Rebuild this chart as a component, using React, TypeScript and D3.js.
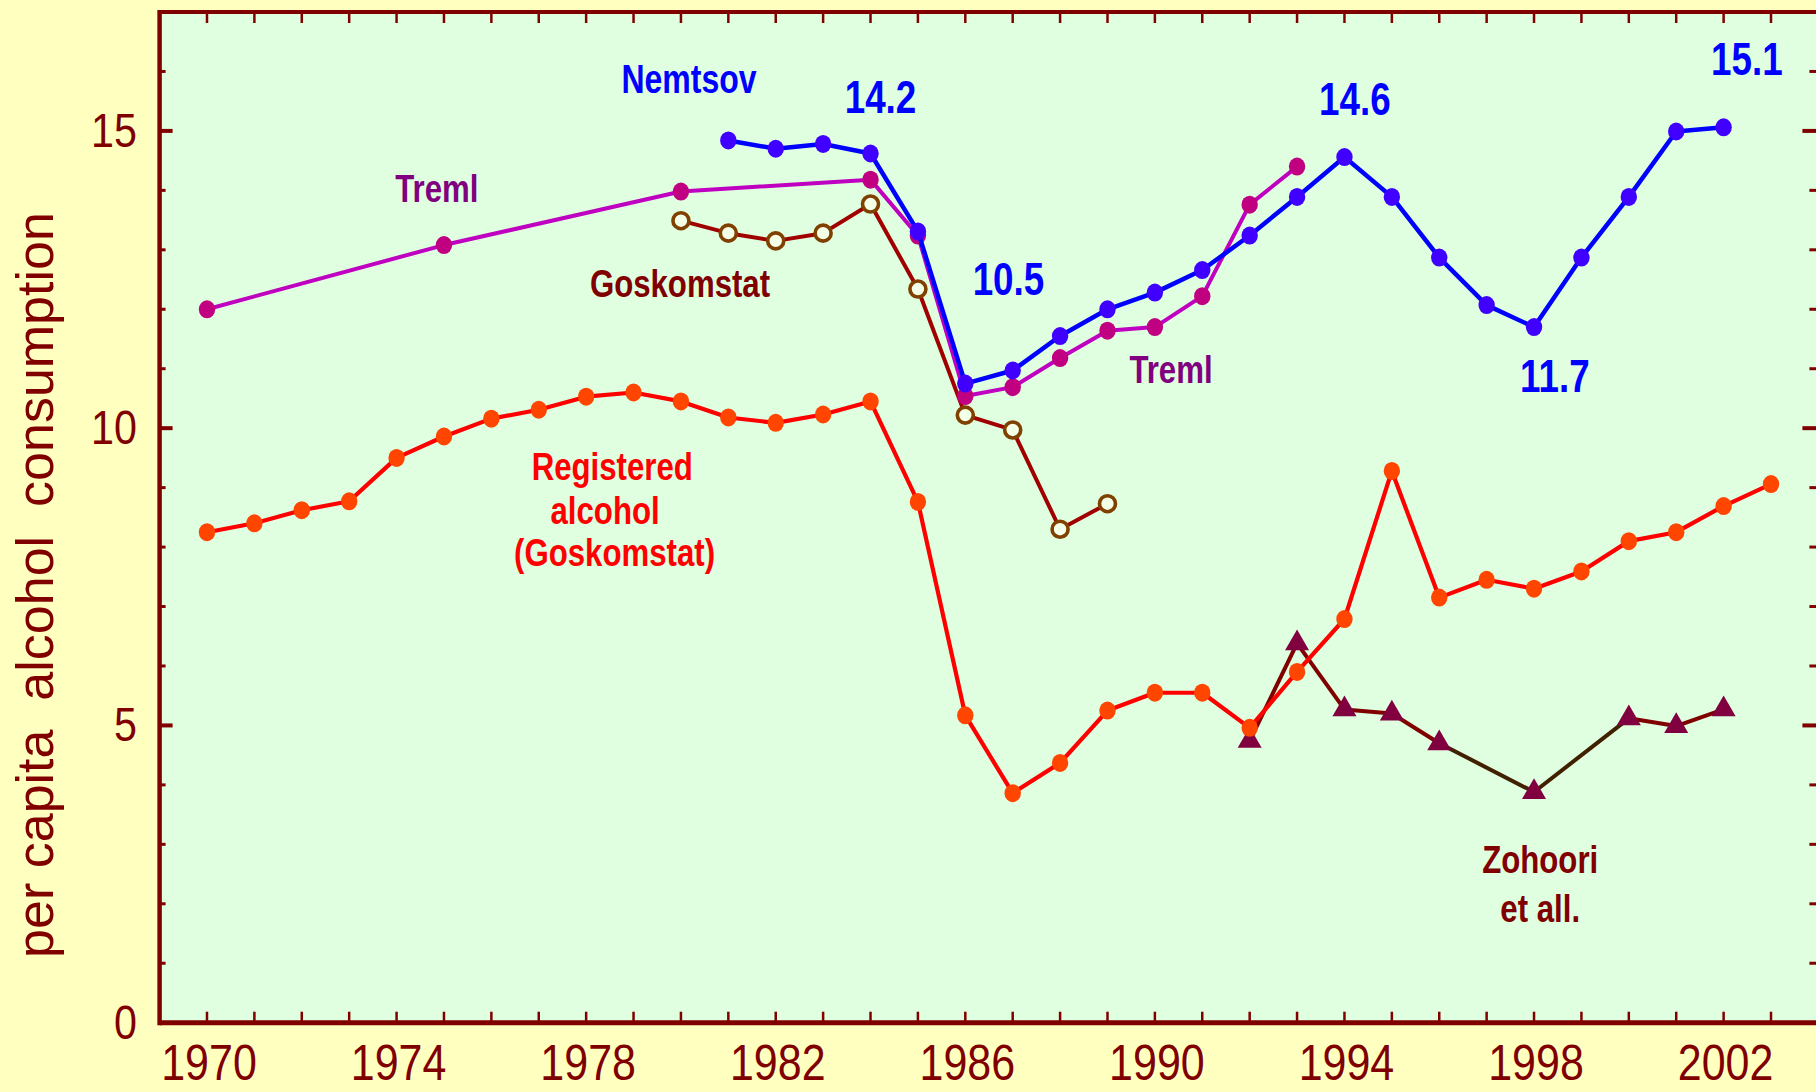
import React from 'react';
import * as d3 from 'd3';

// --- data ---
const registeredYears = [1970, 1971, 1972, 1973, 1974, 1975, 1976, 1977, 1978, 1979, 1980, 1981, 1982, 1983, 1984, 1985, 1986, 1987, 1988, 1989, 1990, 1991, 1992, 1993, 1994, 1995, 1996, 1997, 1998, 1999, 2000, 2001, 2002, 2003];
const registeredValues = [8.25, 8.4, 8.62, 8.77, 9.5, 9.86, 10.16, 10.31, 10.53, 10.6, 10.45, 10.18, 10.09, 10.23, 10.45, 8.76, 5.17, 3.86, 4.37, 5.25, 5.55, 5.55, 4.96, 5.9, 6.79, 9.28, 7.15, 7.45, 7.3, 7.59, 8.1, 8.25, 8.69, 9.06];

const nemtsovYears = [1981, 1982, 1983, 1984, 1985, 1986, 1987, 1988, 1989, 1990, 1991, 1992, 1993, 1994, 1995, 1996, 1997, 1998, 1999, 2000, 2001, 2002];
const nemtsovValues = [14.84, 14.7, 14.78, 14.62, 13.31, 10.75, 10.97, 11.55, 12.0, 12.28, 12.66, 13.24, 13.89, 14.56, 13.89, 12.87, 12.07, 11.7, 12.87, 13.89, 14.99, 15.06];

const tremlYears = [1970, 1975, 1980, 1984, 1985, 1986, 1987, 1988, 1989, 1990, 1991, 1992, 1993];
const tremlValues = [12.0, 13.08, 13.98, 14.18, 13.24, 10.54, 10.69, 11.18, 11.64, 11.7, 12.22, 13.76, 14.4];

const goskomstatYears = [1980, 1981, 1982, 1983, 1984, 1985, 1986, 1987, 1988, 1989];
const goskomstatValues = [13.49, 13.28, 13.15, 13.28, 13.77, 12.34, 10.22, 9.97, 8.3, 8.73];

const zohooriYears = [1992, 1993, 1994, 1995, 1996, 1998, 2000, 2001, 2002];
const zohooriValues = [4.74, 6.38, 5.27, 5.2, 4.7, 3.88, 5.12, 4.99, 5.27];

const xTickLabels = [1970, 1974, 1978, 1982, 1986, 1990, 1994, 1998, 2002];
const yTickLabels = [0, 5, 10, 15];

// annotation texts, placed in data coordinates (year, value of baseline)
const notes = [
  { text: 'Nemtsov', year: 1980.17, value: 15.64, color: '#0000ff', size: 40 },
  { text: '14.2', year: 1984.21, value: 15.3, color: '#0000ff', size: 46 },
  { text: '10.5', year: 1986.91, value: 12.24, color: '#0000ff', size: 46 },
  { text: '14.6', year: 1994.22, value: 15.27, color: '#0000ff', size: 46 },
  { text: '15.1', year: 2002.49, value: 15.94, color: '#0000ff', size: 46 },
  { text: '11.7', year: 1998.44, value: 10.61, color: '#0000ff', size: 46 },
  { text: 'Treml', year: 1974.85, value: 13.8, color: '#800080', size: 39 },
  { text: 'Treml', year: 1990.34, value: 10.76, color: '#800080', size: 39 },
  { text: 'Goskomstat', year: 1979.98, value: 12.21, color: '#800000', size: 39 },
  { text: 'Registered', year: 1978.55, value: 9.13, color: '#ff0000', size: 39 },
  { text: 'alcohol', year: 1978.4, value: 8.39, color: '#ff0000', size: 39 },
  { text: '(Goskomstat)', year: 1978.6, value: 7.68, color: '#ff0000', size: 39 },
  { text: 'Zohoori', year: 1998.13, value: 2.52, color: '#800000', size: 39 },
  { text: 'et all.', year: 1998.13, value: 1.69, color: '#800000', size: 39 },
];

const W = 1816;
const H = 1092;
const AXIS = '#800000';
const SANS = "'Liberation Sans', Arial, sans-serif";

const zip = (xs: number[], ys: number[]) => xs.map((x, i) => ({ x, y: ys[i] }));

// condensed text: no narrow font installed, so squeeze Liberation Sans
function NText({ x, y, size, fill, anchor = 'middle', bold = false, sx = 0.8, children }: any) {
  return (
    <g transform={`translate(${x},${y}) scale(${sx},1)`}>
      <text x={0} y={0} fontSize={size} fill={fill} textAnchor={anchor} fontFamily={SANS} fontWeight={bold ? 'bold' : 'normal'}>
        {children}
      </text>
    </g>
  );
}

export default function App() {
  const x = d3.scaleLinear().domain([1969, 2004]).range([159.6, 1818.4]);
  const y = d3.scaleLinear().domain([0, 17]).range([1022.7, 12]);

  const line = d3.line<{ x: number; y: number }>().x(d => x(d.x)).y(d => y(d.y));

  const registered = zip(registeredYears, registeredValues);
  const nemtsov = zip(nemtsovYears, nemtsovValues);
  const treml = zip(tremlYears, tremlValues);
  const goskomstat = zip(goskomstatYears, goskomstatValues);
  const zohoori = zip(zohooriYears, zohooriValues);

  const triangle = d3.symbol().type(d3.symbolTriangle).size(250)();

  const [x0, x1] = x.range();
  const [yb, yt] = y.range();
  const yMinor = d3.range(1, 17);
  const xMinor = d3.range(1970, 2004);

  return (
    <svg width={W} height={H} style={{ position: 'absolute', left: 0, top: 0, display: 'block' }}>
      <rect x={0} y={0} width={W} height={H} fill="#ffffc0" />
      <rect x={x0} y={yt} width={x1 - x0} height={yb - yt} fill="#e0ffe0" />

      {/* ticks */}
      <g stroke={AXIS}>
        {yMinor.map(v => {
          const major = v % 5 === 0;
          const len = major ? 13 : 6;
          return (
            <g key={'yt' + v}>
              <line x1={x0} x2={x0 + len} y1={y(v)} y2={y(v)} strokeWidth={major ? 4 : 3} />
              <line x1={x1} x2={x1 - len - 3} y1={y(v)} y2={y(v)} strokeWidth={major ? 4 : 3} />
            </g>
          );
        })}
        {xMinor.map(v => (
          <g key={'xt' + v}>
            <line x1={x(v)} x2={x(v)} y1={yb} y2={yb - 11} strokeWidth={2.5} />
            <line x1={x(v)} x2={x(v)} y1={yt} y2={yt + 11} strokeWidth={2.5} />
          </g>
        ))}
      </g>

      {/* frame */}
      <line x1={x0} x2={x1} y1={yt} y2={yt} stroke={AXIS} strokeWidth={4} />
      <line x1={x0} x2={x1} y1={yb} y2={yb} stroke={AXIS} strokeWidth={5} />
      <line x1={x0} x2={x0} y1={yt - 2} y2={yb + 2.5} stroke={AXIS} strokeWidth={4.5} />
      <line x1={x1} x2={x1} y1={yt} y2={yb} stroke={AXIS} strokeWidth={4.5} />

      {/* tick labels */}
      {yTickLabels.map(v => (
        <NText key={'yl' + v} x={137} y={y(v) + 16} size={48} fill={AXIS} anchor="end" sx={0.86}>{v}</NText>
      ))}
      {xTickLabels.map(v => (
        <NText key={'xl' + v} x={x(v) + 2} y={1080} size={50} fill={AXIS} sx={0.86}>{v}</NText>
      ))}
      <text
        transform={`translate(53,585) rotate(-90)`}
        fill={AXIS}
        fontFamily={SANS}
        fontSize={52}
        textAnchor="middle"
        style={{ whiteSpace: 'pre' }}
      >
        {'per capita  alcohol  consumption'}
      </text>

      {/* Zohoori et al. */}
      <g fill="none" strokeWidth={4} strokeLinejoin="round">
        {zohoori.slice(1).map((d, i) => {
          const a = zohoori[i];
          const dark = a.x >= 1996 && d.x <= 2000;
          return <path key={'zs' + i} d={line([a, d]) || ''} stroke={dark ? '#402000' : '#800000'} />;
        })}
      </g>
      {zohoori.map((d, i) => (
        <path key={'zp' + i} d={triangle || ''} transform={`translate(${x(d.x)},${y(d.y)})`} fill="#800040" />
      ))}

      {/* registered alcohol */}
      <path d={line(registered) || ''} fill="none" stroke="#ff0000" strokeWidth={4.2} strokeLinejoin="round" />
      {registered.map((d, i) => (
        <ellipse key={'rp' + i} cx={x(d.x)} cy={y(d.y)} rx={8.2} ry={9} fill="#ff4500" />
      ))}

      {/* Goskomstat */}
      <path d={line(goskomstat) || ''} fill="none" stroke="#a00000" strokeWidth={4} strokeLinejoin="round" />
      {goskomstat.map((d, i) => (
        <circle key={'gp' + i} cx={x(d.x)} cy={y(d.y)} r={8} fill="#f4ffe8" stroke="#804000" strokeWidth={3.6} />
      ))}

      {/* Treml */}
      <path d={line(treml) || ''} fill="none" stroke="#c000c0" strokeWidth={4} strokeLinejoin="round" />
      {treml.map((d, i) => (
        <ellipse key={'tp' + i} cx={x(d.x)} cy={y(d.y)} rx={8.2} ry={9} fill="#c00080" />
      ))}

      {/* Nemtsov */}
      <path d={line(nemtsov) || ''} fill="none" stroke="#0000ff" strokeWidth={4.5} strokeLinejoin="round" />
      {nemtsov.map((d, i) => (
        <ellipse key={'np' + i} cx={x(d.x)} cy={y(d.y)} rx={8.2} ry={9} fill="#4000ff" />
      ))}

      {/* annotations */}
      {notes.map((n, i) => (
        <NText key={'n' + i} x={x(n.year)} y={y(n.value)} size={n.size} fill={n.color} bold>{n.text}</NText>
      ))}
    </svg>
  );
}
